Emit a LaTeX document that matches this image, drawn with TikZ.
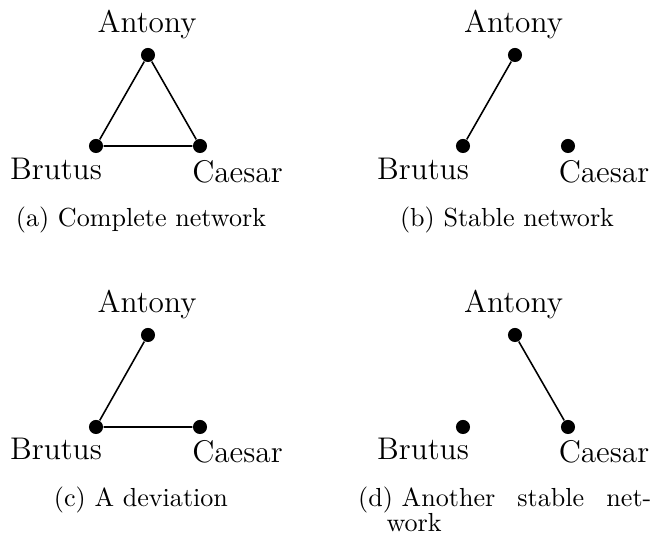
\documentclass[tikz,border=0pt]{standalone}
\begin{document}
\begin{tikzpicture}[x=0.3831pt,y=-0.3831pt,
  dot/.style={circle,fill=black,inner sep=0pt,minimum size=5.4pt},
  lbl/.style={anchor=base,inner sep=0pt,font=\fontsize{12}{14}\selectfont},
  capt/.style={anchor=base,inner sep=0pt,font=\normalsize},
  edge/.style={line width=0.6pt}]
\useasboundingbox (0,0) rectangle (662,541);
% (a)
\node[dot] (aA) at (148,55) {};
\node[dot] (aB) at (96,146) {};
\node[dot] (aC) at (200,146) {};
\node[lbl] (aAl) at (147,33) {Antony};
\node[lbl] (aBl) at (56,180) {Brutus};
\node[lbl] (aCl) at (237.5,183) {Caesar};
\node[capt] (acap) at (141,227) {(a) Complete network};
\draw[edge] (aA) -- (aB) -- (aC) -- (aA);
% (b)
\node[dot] (bA) at (515,55) {};
\node[dot] (bB) at (463,146) {};
\node[dot] (bC) at (568,146) {};
\node[lbl] (bAl) at (513.5,33) {Antony};
\node[lbl] (bBl) at (423,180) {Brutus};
\node[lbl] (bCl) at (604,183) {Caesar};
\node[capt] (bcap) at (507,227) {(b) Stable network};
\draw[edge] (bA) -- (bB);
% (c)
\node[dot] (cA) at (148,335) {};
\node[dot] (cB) at (96,427) {};
\node[dot] (cC) at (200,427) {};
\node[lbl] (cAl) at (147,313) {Antony};
\node[lbl] (cBl) at (56,460) {Brutus};
\node[lbl] (cCl) at (237.5,463) {Caesar};
\node[capt] (ccap) at (141,507) {(c) A deviation};
\draw[edge] (cA) -- (cB) -- (cC);
% (d)
\node[dot] (dA) at (515,335) {};
\node[dot] (dB) at (463,427) {};
\node[dot] (dC) at (568,427) {};
\node[lbl] (dAl) at (513.5,313) {Antony};
\node[lbl] (dBl) at (423,460) {Brutus};
\node[lbl] (dCl) at (604,463) {Caesar};
\node[capt,anchor=base west] (dcap1) at (357.7,506.5) {\makebox[112.3pt][s]{(d)\kern3.33pt Another stable net-}};
\node[capt,anchor=base west] (dcap2) at (386,531.5) {work};
\draw[edge] (dA) -- (dC);
\end{tikzpicture}
\end{document}
